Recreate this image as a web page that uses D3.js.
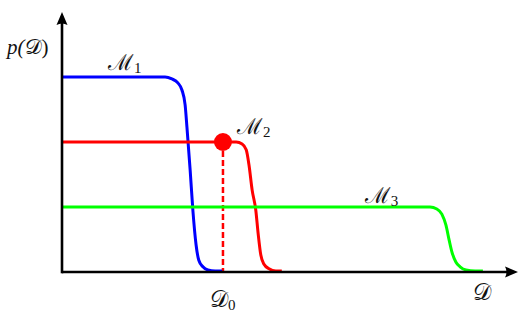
<!DOCTYPE html>
<html><head><meta charset="utf-8">
<script src="https://cdn.jsdelivr.net/npm/d3@7"></script>
<style>body{margin:0;background:#fff}svg{display:block}text{font-family:"Liberation Serif","DejaVu Serif",serif;fill:#111}</style>
</head><body>
<svg id="c" width="531" height="317"></svg>
<script>
// ---- data (x in units of D, y in units of p(D)) ----
const seriesNames = ["ℳ1", "ℳ2", "ℳ3"];
const seriesColors = ["#0000ff", "#ff0000", "#00ff00"];
const blueX = [0, 2.26, 2.41, 2.54, 2.63, 2.70, 2.74, 2.81, 2.87, 2.94, 3.00, 3.09, 3.20, 3.36, 3.51];
const blueY = [3, 3, 2.97, 2.91, 2.80, 2.57, 2.23, 1.57, 0.95, 0.42, 0.18, 0.08, 0.03, 0.015, 0.015];
const redX = [0, 3.82, 3.95, 4.04, 4.10, 4.17, 4.25, 4.30, 4.36, 4.43, 4.54, 4.69, 4.82];
const redY = [2, 2, 1.97, 1.88, 1.65, 1.26, 0.95, 0.60, 0.26, 0.12, 0.05, 0.015, 0.015];
const greenX = [0, 8.07, 8.22, 8.33, 8.42, 8.49, 8.55, 8.64, 8.73, 8.86, 9.06, 9.23];
const greenY = [1, 1, 0.97, 0.89, 0.72, 0.49, 0.31, 0.15, 0.08, 0.03, 0.015, 0.015];
const D0 = 3.53;
const D0level = 2;
const labelPos = [[1.01, 3.11], [3.84, 2.12], [6.64, 1.06]]; // label anchors in data units
const xDomain = [0, 10];
const yDomain = [0, 4];

const svg = d3.select("#c");
const x = d3.scaleLinear().domain(xDomain).range([62, 518]);
const y = d3.scaleLinear().domain(yDomain).range([272, 12]);

const series = [
  blueX.map((v, i) => [v, blueY[i]]),
  redX.map((v, i) => [v, redY[i]]),
  greenX.map((v, i) => [v, greenY[i]])
];
const line = d3.line().x(d => x(d[0])).y(d => y(d[1])).curve(d3.curveMonotoneX);

// dashed drop line
svg.append("line")
  .attr("x1", x(D0)).attr("x2", x(D0))
  .attr("y1", y(D0level)).attr("y2", y(0))
  .attr("stroke", "#ff0000").attr("stroke-width", 2.5)
  .attr("stroke-dasharray", "6,3");

series.forEach((s, i) => {
  svg.append("path").attr("d", line(s))
    .attr("fill", "none").attr("stroke", seriesColors[i])
    .attr("stroke-width", 3).attr("stroke-linejoin", "round");
});

// axes
svg.append("line").attr("x1", x(0)).attr("x2", x(xDomain[1]) - 8)
  .attr("y1", y(0)).attr("y2", y(0)).attr("stroke", "#000").attr("stroke-width", 2.6);
svg.append("line").attr("x1", x(0)).attr("x2", x(0))
  .attr("y1", y(0) + 1.3).attr("y2", y(yDomain[1]) + 8).attr("stroke", "#000").attr("stroke-width", 2.6);
// arrowheads
const ax = x(xDomain[1]), ay = y(0);
svg.append("path").attr("d", `M${ax},${ay} L${ax-13},${ay-5.5} Q${ax-10},${ay} ${ax-13},${ay+5.5} Z`).attr("fill", "#000");
const bx = x(0), by = y(yDomain[1]);
svg.append("path").attr("d", `M${bx},${by} L${bx-5.5},${by+13} Q${bx},${by+10} ${bx+5.5},${by+13} Z`).attr("fill", "#000");

// marker
svg.append("circle").attr("cx", x(D0)).attr("cy", y(D0level)).attr("r", 9).attr("fill", "#ff0000");

// series labels
labelPos.forEach((p, i) => {
  const t = svg.append("text").attr("x", x(p[0])).attr("y", y(p[1]))
    .attr("font-size", 22);
  t.append("tspan").text(seriesNames[i].slice(0, 1)).attr("font-family", "DejaVu Serif");
  t.append("tspan").text(seriesNames[i].slice(1)).attr("font-size", 15).attr("dx", 1).attr("dy", 3);
});

// axis labels
const tp = svg.append("text").attr("x", 7).attr("y", 54).attr("font-size", 21);
tp.append("tspan").text("p(").attr("font-style", "italic");
tp.append("tspan").text("𝒟");
tp.append("tspan").text(")");
svg.append("text").attr("x", x(9.01)).attr("y", 300).attr("font-size", 23).text("𝒟");
const t0 = svg.append("text").attr("x", x(D0) - 13).attr("y", 307).attr("font-size", 23);
t0.append("tspan").text("𝒟");
t0.append("tspan").text("0").attr("font-size", 15).attr("dy", 3);
</script>
</body></html>
